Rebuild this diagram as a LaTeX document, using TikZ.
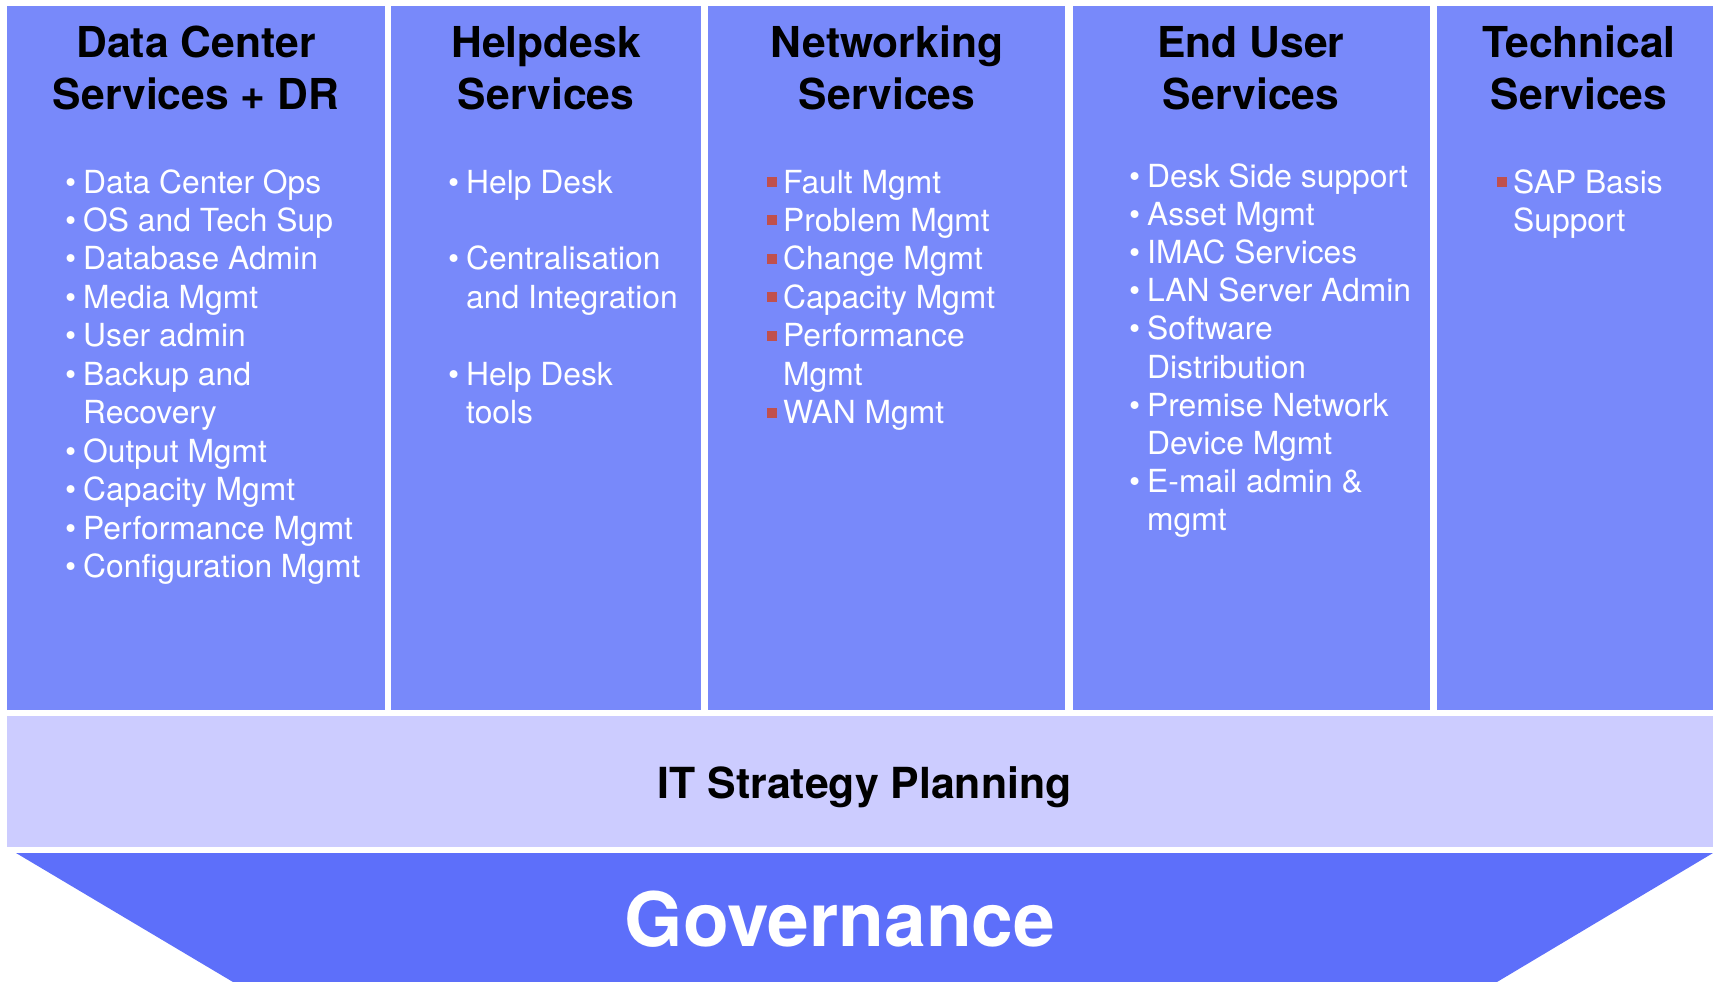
\documentclass[tikz,border=0pt]{standalone}
\usepackage{fontspec}
\setmainfont{TeX Gyre Heros}
\usepackage{tikz}

\definecolor{colblue}{HTML}{7889FA}
\definecolor{bandlilac}{HTML}{CCCCFF}
\definecolor{govblue}{HTML}{5D6FFA}
\definecolor{sqred}{HTML}{C0504D}

\newcommand{\dotb}{\llap{\textbullet\hspace{7pt}}}
\newcommand{\sqb}{\llap{\textcolor{sqred}{\rule[6pt]{10pt}{10pt}}\hspace{6pt}}}
\newcommand{\nob}{}

\begin{document}
\begin{tikzpicture}[x=1pt, y=-1pt,
    col/.style={fill=colblue},
    head/.style={font=\fontsize{42.6}{52}\selectfont\bfseries, text=black, anchor=base},
    item/.style={font=\fontsize{31.8}{38}\selectfont, text=white, anchor=base west}]
            \tikzstyle{every node}+=[inner sep=0pt]
            \useasboundingbox (0,0) rectangle (1713,982);
            \fill [col] (7,6) rectangle (385,710);
            \fill [col] (391,6) rectangle (701,710);
            \fill [col] (708,6) rectangle (1065,710);
            \fill [col] (1073,6) rectangle (1430,710);
            \fill [col] (1437,6) rectangle (1713,710);
            \fill [bandlilac] (7,716) rectangle (1713,847);
            \fill [govblue] (16,853) -- (1713,853) -- (1497,982) -- (233,982) -- cycle;
            \foreach \cx/\ta/\tb/\nm in {196/Data Center/Services + DR/dc,
                546/Helpdesk/Services/hd, 887/Networking/Services/nw,
                1251/End User/Services/eu, 1579/Technical/Services/ts}
            {
              \node [head] (\nm-h1) at (\cx,58) {\ta};
              \node [head] (\nm-h2) at (\cx,110) {\tb};
            }
            \foreach \m/\txt [count=\i from 0] in {\dotb/Data Center Ops, \dotb/OS and Tech Sup,
                \dotb/Database Admin, \dotb/Media Mgmt, \dotb/User admin, \dotb/Backup and,
                \nob/Recovery, \dotb/Output Mgmt, \dotb/Capacity Mgmt, \dotb/Performance Mgmt,
                \dotb/Configuration Mgmt}
              \node [item] (dc\i) at (83,193+38.45*\i) {\m\txt};
            \foreach \k/\m/\txt in {0/\dotb/Help Desk, 2/\dotb/Centralisation,
                3/\nob/and Integration, 5/\dotb/Help Desk, 6/\nob/tools}
              \node [item] (hd\k) at (466,193+38.45*\k) {\m\txt};
            \foreach \m/\txt [count=\i from 0] in {\sqb/Fault Mgmt, \sqb/Problem Mgmt,
                \sqb/Change Mgmt, \sqb/Capacity Mgmt, \sqb/Performance, \nob/Mgmt, \sqb/WAN Mgmt}
              \node [item] (nw\i) at (783,193+38.45*\i) {\m\txt};
            \foreach \m/\txt [count=\i from 0] in {\dotb/Desk Side support, \dotb/Asset Mgmt,
                \dotb/IMAC Services, \dotb/LAN Server Admin, \dotb/Software, \nob/Distribution,
                \dotb/Premise Network, \nob/Device Mgmt, \dotb/E-mail admin \&, \nob/mgmt}
              \node [item] (eu\i) at (1147,187.5+38.1*\i) {\m\txt};
            \node [item] (ts0) at (1513,193) {\sqb SAP Basis};
            \node [item] (ts1) at (1513,231.4) {Support};
            \node [font=\fontsize{42.8}{50}\selectfont\bfseries, anchor=base] (itsp) at (864.5,798) {IT Strategy Planning};
            \node [font=\fontsize{75}{80}\selectfont\bfseries, text=white, anchor=base] (gov) at (840,946) {Governance};
\end{tikzpicture}
\end{document}
